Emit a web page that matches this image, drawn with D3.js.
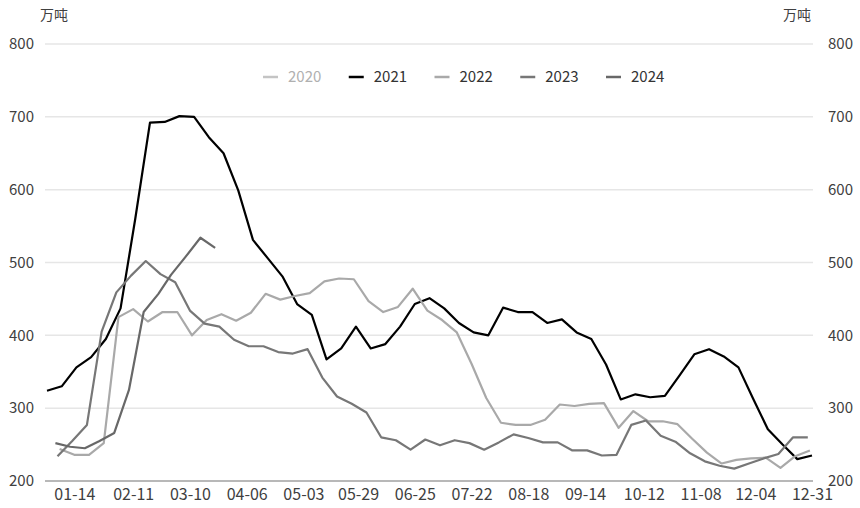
<!DOCTYPE html>
<html><head><meta charset="utf-8">
<script src="https://cdn.jsdelivr.net/npm/d3@7"></script>
<style>
body{margin:0;background:#fff}
svg{display:block}
text{font-family:"Noto Sans CJK SC","Noto Sans",sans-serif}
</style>
</head><body>
<svg id="c" width="860" height="508"></svg>
<script>
// ---- data ----
const seriesNames = ["2020", "2021", "2022", "2023", "2024"];
const seriesColors = ["#b8b8b8", "#000000", "#a9a9a9", "#777777", "#686868"];
const hiddenSeries = ["2020"];

const dates2020 = [];
const values2020 = [];

const dates2021 = ["01-01","01-08","01-15","01-22","01-29","02-05","02-12","02-19","02-26","03-05","03-12","03-19","03-26","04-02","04-09","04-16","04-23","04-30","05-07","05-14","05-21","05-28","06-04","06-11","06-18","06-25","07-02","07-09","07-16","07-23","07-30","08-06","08-13","08-20","08-27","09-03","09-10","09-17","09-24","10-01","10-08","10-15","10-22","10-29","11-05","11-12","11-19","11-26","12-03","12-10","12-17","12-24","12-31"];
const values2021 = [324,330,356,370,395,437,560,692,693,701,700,672,650,599,531,506,481,443,428,367,382,412,382,388,412,443,451,437,417,404,400,438,432,432,417,422,404,395,360,312,319,315,317,345,374,381,371,356,313,271,250,230,235];

const dates2022 = ["01-07","01-14","01-21","01-28","02-04","02-11","02-18","02-25","03-04","03-11","03-18","03-25","04-01","04-08","04-15","04-22","04-29","05-06","05-13","05-20","05-27","06-03","06-10","06-17","06-24","07-01","07-08","07-15","07-22","07-29","08-05","08-12","08-19","08-26","09-02","09-09","09-16","09-23","09-30","10-07","10-14","10-21","10-28","11-04","11-11","11-18","11-25","12-02","12-09","12-16","12-23","12-30"];
const values2022 = [244,236,236,252,425,436,419,432,432,400,421,429,420,431,457,449,454,458,474,478,477,447,432,439,464,434,421,404,361,314,280,277,277,284,305,303,306,307,273,296,282,282,278,258,239,224,229,231,232,218,234,242];

const dates2023 = ["01-06","01-13","01-20","01-27","02-03","02-10","02-17","02-24","03-03","03-10","03-17","03-24","03-31","04-07","04-14","04-21","04-28","05-05","05-12","05-19","05-26","06-02","06-09","06-16","06-23","06-30","07-07","07-14","07-21","07-28","08-04","08-11","08-18","08-25","09-01","09-08","09-15","09-22","09-29","10-06","10-13","10-20","10-27","11-03","11-10","11-17","11-24","12-01","12-08","12-15","12-22","12-29"];
const values2023 = [234,255,277,405,459,482,502,484,473,434,416,412,394,385,385,377,375,381,342,316,306,294,260,256,243,257,249,256,252,243,253,264,259,253,253,242,242,235,236,277,283,262,254,238,227,221,217,224,231,237,260,260];

const dates2024 = ["01-05","01-12","01-19","01-26","02-02","02-09","02-16","02-23","03-01","03-08","03-15","03-22"];
const values2024 = [252,247,245,255,266,325,432,457,483,508,534,520];

const xTickLabels = ["01-14","02-11","03-10","04-06","05-03","05-29","06-25","07-22","08-18","09-14","10-12","11-08","12-04","12-31"];
const yTicks = [200,300,400,500,600,700,800];
const unitLabel = "万吨";

// ---- build ----
const allDates = [dates2020, dates2021, dates2022, dates2023, dates2024];
const allValues = [values2020, values2021, values2022, values2023, values2024];
const series = seriesNames.map((name, i) => ({
  name, color: seriesColors[i], hidden: hiddenSeries.includes(name),
  points: allDates[i].map((d, j) => ({ d, v: allValues[i][j] }))
}));

const parse = s => d3.timeParse("%Y-%m-%d")("2021-" + s);
const left = 45, right = 813;
const x = d3.scaleTime().domain([parse("01-01"), parse("12-31")]).range([47, 812]);
const y = d3.scaleLinear().domain([200, 800]).range([481, 44]);

const svg = d3.select("#c");
const labelColor = "#404040";
const ff = '"Noto Sans CJK SC","Noto Sans",sans-serif';

// gridlines
svg.append("g").selectAll("line").data(yTicks.filter(t => t !== 200)).join("line")
  .attr("x1", left).attr("x2", right)
  .attr("y1", d => y(d)).attr("y2", d => y(d))
  .attr("stroke", "#e6e6e6").attr("stroke-width", 1.5);

// base axis line
svg.append("line").attr("x1", left).attr("x2", right)
  .attr("y1", y(200)).attr("y2", y(200))
  .attr("stroke", "#a0a0a0").attr("stroke-width", 1.5);

// left y axis
const gl = svg.append("g").attr("transform", `translate(${left},0)`)
  .call(d3.axisLeft(y).tickValues(yTicks).tickSize(0).tickPadding(11).tickFormat(d3.format("d")));
gl.select(".domain").remove();
gl.selectAll("text").attr("fill", labelColor).style("font-size", "15px").style("font-family", ff);

// right y axis
const gr = svg.append("g").attr("transform", `translate(${right},0)`)
  .call(d3.axisRight(y).tickValues(yTicks).tickSize(0).tickPadding(15).tickFormat(d3.format("d")));
gr.select(".domain").remove();
gr.selectAll("text").attr("fill", labelColor).style("font-size", "15px").style("font-family", ff);

// x axis
const gx = svg.append("g").attr("transform", `translate(0,${y(200)})`)
  .call(d3.axisBottom(x).tickValues(xTickLabels.map(parse)).tickSize(0).tickPadding(8)
    .tickFormat(d3.timeFormat("%m-%d")));
gx.select(".domain").remove();
gx.selectAll("text").attr("fill", labelColor).style("font-size", "16px").style("font-family", ff);

// units
svg.append("text").attr("x", 40).attr("y", 20).text(unitLabel)
  .attr("fill", labelColor).style("font-size", "14px");
svg.append("text").attr("x", 783).attr("y", 20).text(unitLabel)
  .attr("fill", labelColor).style("font-size", "14px");

// lines
const line = d3.line().x(p => x(parse(p.d))).y(p => y(p.v));
svg.append("g").selectAll("path").data(series.filter(s => !s.hidden && s.points.length)).join("path")
  .attr("d", s => line(s.points))
  .attr("fill", "none")
  .attr("stroke", s => s.color)
  .attr("stroke-width", 2.2)
  .attr("stroke-linejoin", "round");

// legend
const lg = svg.append("g");
const items = lg.selectAll("g").data(series).join("g")
  .attr("transform", (s, i) => `translate(${263 + i * 85.75},77)`);
items.append("line").attr("x1", 0).attr("x2", 15).attr("y1", 0).attr("y2", 0)
  .attr("stroke", s => s.hidden ? "#c4c4c4" : s.color).attr("stroke-width", 2.5);
items.append("text").attr("x", 25).attr("y", 0).attr("dy", "0.36em")
  .text(s => s.name)
  .attr("fill", s => s.hidden ? "#b0b0b0" : "#333")
  .style("font-size", "15px");
</script>
</body></html>
